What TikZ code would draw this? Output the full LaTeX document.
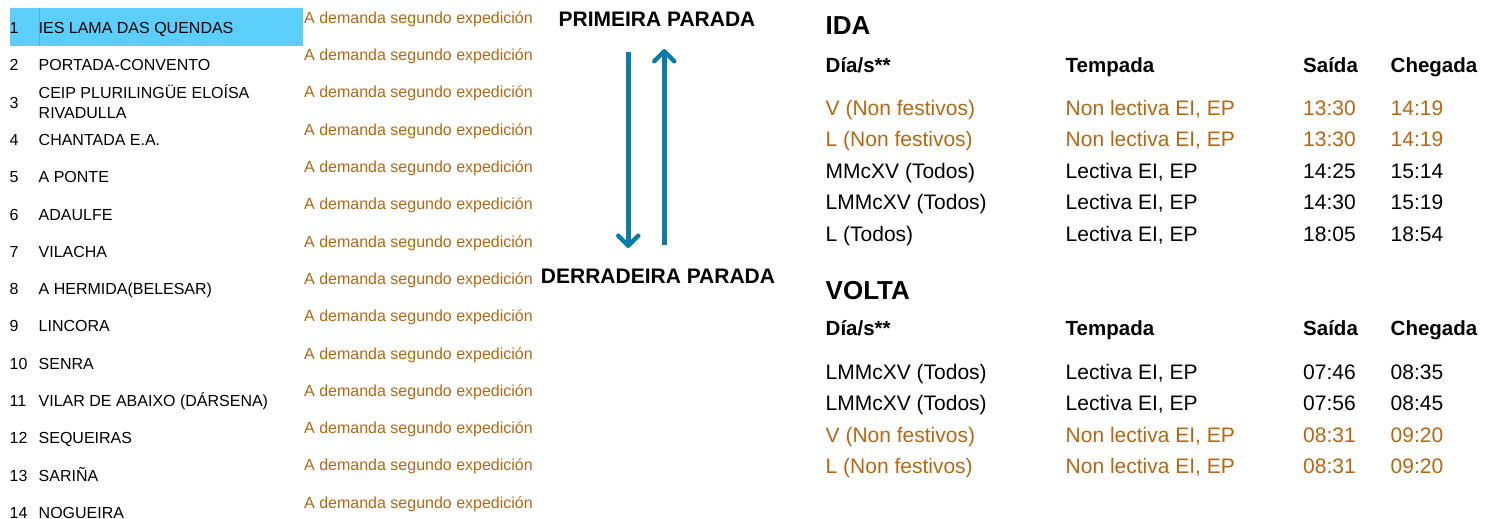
\documentclass[tikz,border=0pt]{standalone}
\usepackage{fontspec}
\setmainfont{Liberation Sans}
\usetikzlibrary{arrows.meta}

\definecolor{demand}{RGB}{184,102,18}
\definecolor{flowblue}{RGB}{10,124,167}
\definecolor{hilite}{RGB}{91,206,250}
\definecolor{hiliteline}{RGB}{58,182,232}

\tikzset{
    stopnum/.style={anchor=base west, inner sep=0pt,
        font=\fontsize{16}{19}\selectfont},
    demandtxt/.style={stopnum, text=demand},
    endlabel/.style={anchor=base, inner sep=0pt,
        font=\bfseries\fontsize{21}{25}\selectfont},
    flow/.style={line width=4.5pt, draw=flowblue,
        -{Straight Barb[length=10pt, width=20pt, round]}},
    dirtitle/.style={anchor=base west, inner sep=0pt,
        font=\bfseries\fontsize{26}{31}\selectfont},
    colhead/.style={anchor=base west, inner sep=0pt,
        font=\bfseries\fontsize{20.5}{24}\selectfont},
    cell/.style={anchor=base west, inner sep=0pt,
        font=\fontsize{21}{25}\selectfont},
    offcell/.style={cell, text=demand}
}

\begin{document}
\begin{tikzpicture}[x=1pt, y=-1pt]
    \useasboundingbox (0,0) rectangle (1485,519);

    % First stop highlighted
    \fill [hilite] (10,8) rectangle (303,46);
    \draw [hiliteline, line width=0.8pt] (39,8) -- (39,46);

    % Stops
    \node (num1) [stopnum] at (9.5,33.5) {1};
    \node (stop1) [stopnum] at (38.5,33.5) {IES LAMA DAS QUENDAS};
    \node (num2) [stopnum] at (9.5,70.8) {2};
    \node (stop2) [stopnum] at (38.5,70.8) {PORTADA-CONVENTO};
    \node (num3) [stopnum] at (9.5,108.1) {3};
    \node (stop3) [stopnum] at (38.5,99) {CEIP PLURILINGÜE ELOÍSA};
    \node (stop3b) [stopnum] at (38.5,118) {RIVADULLA};
    \node (num4) [stopnum] at (9.5,145.4) {4};
    \node (stop4) [stopnum] at (38.5,145.4) {CHANTADA E.A.};
    \node (num5) [stopnum] at (9.5,182.7) {5};
    \node (stop5) [stopnum] at (38.5,182.7) {A PONTE};
    \node (num6) [stopnum] at (9.5,220) {6};
    \node (stop6) [stopnum] at (38.5,220) {ADAULFE};
    \node (num7) [stopnum] at (9.5,257.3) {7};
    \node (stop7) [stopnum] at (38.5,257.3) {VILACHA};
    \node (num8) [stopnum] at (9.5,294.6) {8};
    \node (stop8) [stopnum] at (38.5,294.6) {A HERMIDA(BELESAR)};
    \node (num9) [stopnum] at (9.5,331.9) {9};
    \node (stop9) [stopnum] at (38.5,331.9) {LINCORA};
    \node (num10) [stopnum] at (9.5,369.2) {10};
    \node (stop10) [stopnum] at (38.5,369.2) {SENRA};
    \node (num11) [stopnum] at (9.5,406.5) {11};
    \node (stop11) [stopnum] at (38.5,406.5) {VILAR DE ABAIXO (DÁRSENA)};
    \node (num12) [stopnum] at (9.5,443.8) {12};
    \node (stop12) [stopnum] at (38.5,443.8) {SEQUEIRAS};
    \node (num13) [stopnum] at (9.5,481.1) {13};
    \node (stop13) [stopnum] at (38.5,481.1) {SARIÑA};
    \node (num14) [stopnum] at (9.5,518.4) {14};
    \node (stop14) [stopnum] at (38.5,518.4) {NOGUEIRA};

    % On demand notes
    \foreach \i in {1,...,14} {
        \pgfmathsetmacro\by{23.3+37.3*(\i-1)}
        \node (dem\i) [demandtxt] at (304,\by) {A demanda segundo expedición};
    }

    % Ends of the line
    \node (first) [endlabel] at (657,26.7) {PRIMEIRA PARADA};
    \node (last) [endlabel] at (658,283) {DERRADEIRA PARADA};
    \coordinate (goA) at (628.3,52);
    \coordinate (goB) at (628.3,248);
    \coordinate (backA) at (664.3,245);
    \coordinate (backB) at (664.3,49);

    % Links
    \draw [flow] (goA) -- (goB);
    \draw [flow] (backA) -- (backB);

    % IDA
    \node (ida) [dirtitle] at (825.5,35) {IDA};
    \node (idaday) [colhead] at (825.5,72.3) {Día/s**};
    \node (idaterm) [colhead] at (1065.5,72.3) {Tempada};
    \node (idaout) [colhead] at (1303,72.3) {Saída};
    \node (idain) [colhead] at (1390.5,72.3) {Chegada};

    \node (ida1a) [offcell] at (825.5,115) {V (Non festivos)};
    \node (ida1b) [offcell] at (1065.5,115) {Non lectiva EI, EP};
    \node (ida1c) [offcell] at (1303,115) {13:30};
    \node (ida1d) [offcell] at (1390.5,115) {14:19};
    \node (ida2a) [offcell] at (825.5,146.6) {L (Non festivos)};
    \node (ida2b) [offcell] at (1065.5,146.6) {Non lectiva EI, EP};
    \node (ida2c) [offcell] at (1303,146.6) {13:30};
    \node (ida2d) [offcell] at (1390.5,146.6) {14:19};
    \node (ida3a) [cell] at (825.5,178.2) {MMcXV (Todos)};
    \node (ida3b) [cell] at (1065.5,178.2) {Lectiva EI, EP};
    \node (ida3c) [cell] at (1303,178.2) {14:25};
    \node (ida3d) [cell] at (1390.5,178.2) {15:14};
    \node (ida4a) [cell] at (825.5,209.8) {LMMcXV (Todos)};
    \node (ida4b) [cell] at (1065.5,209.8) {Lectiva EI, EP};
    \node (ida4c) [cell] at (1303,209.8) {14:30};
    \node (ida4d) [cell] at (1390.5,209.8) {15:19};
    \node (ida5a) [cell] at (825.5,241.4) {L (Todos)};
    \node (ida5b) [cell] at (1065.5,241.4) {Lectiva EI, EP};
    \node (ida5c) [cell] at (1303,241.4) {18:05};
    \node (ida5d) [cell] at (1390.5,241.4) {18:54};

    % VOLTA
    \node (volta) [dirtitle] at (825.5,299.5) {VOLTA};
    \node (voltaday) [colhead] at (825.5,335) {Día/s**};
    \node (voltaterm) [colhead] at (1065.5,335) {Tempada};
    \node (voltaout) [colhead] at (1303,335) {Saída};
    \node (voltain) [colhead] at (1390.5,335) {Chegada};

    \node (volta1a) [cell] at (825.5,379) {LMMcXV (Todos)};
    \node (volta1b) [cell] at (1065.5,379) {Lectiva EI, EP};
    \node (volta1c) [cell] at (1303,379) {07:46};
    \node (volta1d) [cell] at (1390.5,379) {08:35};
    \node (volta2a) [cell] at (825.5,410.6) {LMMcXV (Todos)};
    \node (volta2b) [cell] at (1065.5,410.6) {Lectiva EI, EP};
    \node (volta2c) [cell] at (1303,410.6) {07:56};
    \node (volta2d) [cell] at (1390.5,410.6) {08:45};
    \node (volta3a) [offcell] at (825.5,442.2) {V (Non festivos)};
    \node (volta3b) [offcell] at (1065.5,442.2) {Non lectiva EI, EP};
    \node (volta3c) [offcell] at (1303,442.2) {08:31};
    \node (volta3d) [offcell] at (1390.5,442.2) {09:20};
    \node (volta4a) [offcell] at (825.5,473.8) {L (Non festivos)};
    \node (volta4b) [offcell] at (1065.5,473.8) {Non lectiva EI, EP};
    \node (volta4c) [offcell] at (1303,473.8) {08:31};
    \node (volta4d) [offcell] at (1390.5,473.8) {09:20};
\end{tikzpicture}
\end{document}
